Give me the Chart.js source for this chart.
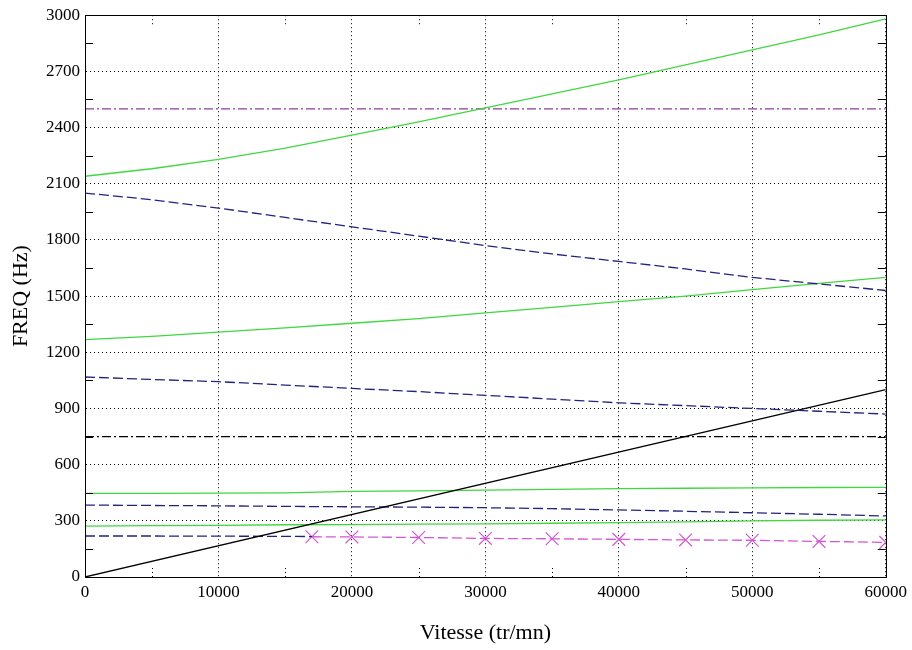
<!DOCTYPE html>
<html>
<head>
<meta charset="utf-8">
<script src="https://cdn.jsdelivr.net/npm/chart.js@4.4.1/dist/chart.umd.min.js"></script>
<style>
  html, body { margin: 0; padding: 0; background: #fff; }
  #wrap { width: 912px; height: 650px; position: relative; }
</style>
</head>
<body>
<div id="wrap"><canvas id="campbell"></canvas></div>
<script>
// speed axis (tr/mn)
const rpm = [0, 5000, 10000, 15000, 20000, 25000, 30000, 35000, 40000, 45000, 50000, 55000, 60000];

// modes (Hz)
const green1 = [2140, 2180, 2230, 2290, 2360, 2430, 2505, 2580, 2655, 2735, 2815, 2895, 2980];
const blue1 = [2050, 2015, 1970, 1920, 1870, 1820, 1770, 1725, 1685, 1645, 1600, 1565, 1530];
const green2 = [1268, 1285, 1308, 1330, 1355, 1380, 1410, 1440, 1470, 1500, 1535, 1568, 1600];
const blue2 = [1068, 1055, 1043, 1025, 1007, 990, 970, 950, 930, 915, 900, 885, 870];
const green3 = [447, 447, 448, 449, 457, 460, 464, 468, 472, 474, 476, 478, 479];
const blue3 = [384, 382, 380, 377, 375, 373, 370, 365, 358, 351, 343, 335, 326];
const green4 = [272, 274, 276, 279, 280, 282, 284, 287, 290, 294, 300, 303, 305];

// lowest mode, blue part then magenta part with markers
const blue4Rpm = [0, 5000, 10000, 15000, 17000];
const blue4 = [219, 219, 218, 217, 216];
const magRpm = [17000, 20000, 25000, 30000, 35000, 40000, 45000, 50000, 55000, 60000];
const mag = [215, 214, 211, 206, 204, 201, 198, 196, 190, 185];

// 1X line and horizontal limits
const excitRpm = [0, 60000];
const excit = [0, 1000];
const limitHigh = [2500, 2500];
const limitLow = [750, 750];

const xTicks = [0, 10000, 20000, 30000, 40000, 50000, 60000];
const yTicks = [0, 300, 600, 900, 1200, 1500, 1800, 2100, 2400, 2700, 3000];

const GREEN = "#3fd83f";
const NAVY = "#23237e";
const PURPLE = "#8a3c9c";
const PINK = "#d456d4";

function pts(xs, ys) {
  return xs.map((x, i) => ({ x: x, y: ys[i] }));
}

function line(xs, ys, color, dash) {
  return {
    data: pts(xs, ys),
    borderColor: color,
    backgroundColor: color,
    borderWidth: 1.3,
    borderDash: dash || [],
    pointRadius: 0,
    tension: 0,
    fill: false,
  };
}

const DASHED = [10, 4];
const DASHDOT = [9, 3, 2, 3];

// frame + minor ticks like the original plot
const framePlugin = {
  id: "frame",
  afterDatasetsDraw(chart) {
    const { ctx, chartArea: a, scales } = chart;
    ctx.save();
    ctx.strokeStyle = "#000";
    ctx.lineWidth = 1;
    ctx.setLineDash([]);
    ctx.beginPath();
    for (let v = 150; v < 3000; v += 300) {
      const y = Math.round(scales.y.getPixelForValue(v)) + 0.5;
      ctx.moveTo(a.left, y);
      ctx.lineTo(a.left + 8, y);
      ctx.moveTo(a.right, y);
      ctx.lineTo(a.right - 8, y);
    }
    ctx.stroke();
    ctx.setLineDash([1, 3]);
    ctx.beginPath();
    for (let v = 5000; v < 60000; v += 10000) {
      const x = Math.round(scales.x.getPixelForValue(v)) + 0.5;
      ctx.moveTo(x, a.bottom);
      ctx.lineTo(x, a.bottom - 9);
      ctx.moveTo(x, a.top);
      ctx.lineTo(x, a.top + 9);
    }
    ctx.stroke();
    ctx.setLineDash([]);
    ctx.strokeRect(Math.round(a.left) + 0.5, Math.round(a.top) + 0.5,
      Math.round(a.right - a.left), Math.round(a.bottom - a.top));
    ctx.restore();
  },
};

const magenta = line(magRpm, mag, PINK, DASHED);
magenta.pointStyle = "crossRot";
magenta.pointRadius = 9;
magenta.pointBorderWidth = 1.2;
magenta.pointBorderColor = PINK;

const tickFont = { family: "Liberation Serif", size: 17 };
const titleFont = { family: "Liberation Serif", size: 22 };

new Chart(document.getElementById("campbell"), {
  type: "line",
  data: {
    datasets: [
      line(rpm, green1, GREEN),
      line(excitRpm, limitHigh, PURPLE, DASHDOT),
      line(rpm, blue1, NAVY, DASHED),
      line(rpm, green2, GREEN),
      line(rpm, blue2, NAVY, DASHED),
      line(excitRpm, limitLow, "#000", DASHDOT),
      line(excitRpm, excit, "#000"),
      line(rpm, green3, GREEN),
      line(rpm, blue3, NAVY, DASHED),
      line(rpm, green4, GREEN),
      line(blue4Rpm, blue4, NAVY, DASHED),
      magenta,
    ],
  },
  options: {
    responsive: true,
    maintainAspectRatio: false,
    animation: false,
    layout: { padding: { left: 0, right: 26, top: 15, bottom: 0 } },
    plugins: { legend: { display: false }, tooltip: { enabled: false } },
    scales: {
      x: {
        type: "linear",
        min: 0,
        max: 60000,
        afterBuildTicks: (s) => { s.ticks = xTicks.map((v) => ({ value: v })); },
        afterFit: (s) => { s.height = 73; },
        ticks: { color: "#000", font: tickFont, padding: 5, maxRotation: 0, callback: (v) => String(v) },
        grid: { color: "#000", lineWidth: 1, drawTicks: false },
        border: { display: true, color: "#000", dash: [1, 3] },
        title: { display: true, text: "Vitesse (tr/mn)", color: "#000", font: titleFont, padding: { top: 0, bottom: 4 } },
      },
      y: {
        type: "linear",
        min: 0,
        max: 3000,
        afterBuildTicks: (s) => { s.ticks = yTicks.map((v) => ({ value: v })); },
        afterFit: (s) => { s.width = 85; },
        ticks: { color: "#000", font: tickFont, padding: 5, callback: (v) => String(v) },
        grid: { color: "#000", lineWidth: 1, drawTicks: false },
        border: { display: true, color: "#000", dash: [1, 3] },
        title: { display: true, text: "FREQ (Hz)", color: "#000", font: titleFont, padding: { top: 8, bottom: 0 } },
      },
    },
  },
  plugins: [framePlugin],
});
</script>
</body>
</html>
